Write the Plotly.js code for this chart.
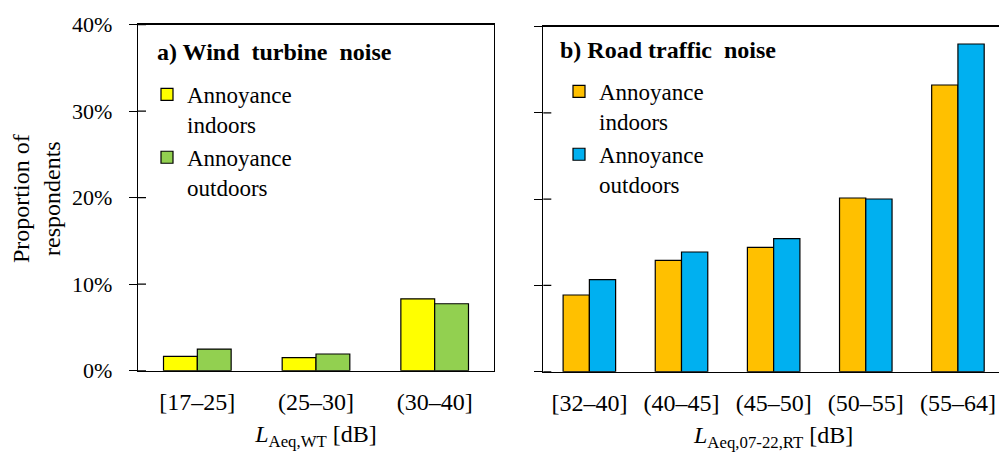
<!DOCTYPE html>
<html>
<head>
<meta charset="utf-8">
<script src="https://cdn.plot.ly/plotly-3.0.1.min.js"></script>
<style>
html, body { margin: 0; padding: 0; overflow: hidden; background: #fff; }
#chart { width: 1004px; height: 453px; }
#chart svg text, #chart svg tspan { font-family: 'Liberation Serif', 'Times New Roman', serif !important; }
</style>
</head>
<body>
<div id="chart"></div>
<script>
// ---- data ----
const catsWT = ['[17–25]', '(25–30]', '(30–40]'];
const wtIndoors = [1.66, 1.5, 8.31];
const wtOutdoors = [2.5, 1.93, 7.74];

const catsRT = ['[32–40]', '(40–45]', '(45–50]', '(50–55]', '(55–64]'];
const rtIndoors = [8.89, 12.9, 14.41, 20.13, 33.22];
const rtOutdoors = [10.66, 13.87, 15.41, 20.01, 37.97];

const yTicks = [0, 10, 20, 30, 40];
const seriesNames = ['Annoyance<br>indoors', 'Annoyance<br>outdoors'];
const yTitle = 'Proportion of<br>respondents';

const FONT = 'Liberation Serif, serif';
const W = 1004, H = 453;
const px = v => v / W;
const py = v => 1 - v / H;

const barLine = { color: '#000', width: 1.2 };

const traces = [
  { type: 'bar', x: catsWT, y: wtIndoors, name: seriesNames[0], xaxis: 'x', yaxis: 'y',
    marker: { color: '#FFFF00', line: barLine }, legend: 'legend' },
  { type: 'bar', x: catsWT, y: wtOutdoors, name: seriesNames[1], xaxis: 'x', yaxis: 'y',
    marker: { color: '#92D050', line: barLine }, legend: 'legend' },
  { type: 'bar', x: catsRT, y: rtIndoors, name: seriesNames[0], xaxis: 'x2', yaxis: 'y2',
    marker: { color: '#FFC000', line: barLine }, legend: 'legend2' },
  { type: 'bar', x: catsRT, y: rtOutdoors, name: seriesNames[1], xaxis: 'x2', yaxis: 'y2',
    marker: { color: '#00B0F0', line: barLine }, legend: 'legend2' }
];

const axisLine = { showline: true, linecolor: '#000', linewidth: 1.3, showgrid: false, zeroline: false };

const yBase = Object.assign({}, axisLine, {
  range: [0, 40], tickvals: yTicks, ticktext: yTicks.map(v => v + '%'),
  ticks: 'outside', ticklen: 8, tickwidth: 1.2, tickcolor: '#000',
  tickfont: { family: FONT, size: 22, color: '#000' }, fixedrange: true
});
const xBase = Object.assign({}, axisLine, {
  ticks: '', mirror: true, tickfont: { family: FONT, size: 24, color: '#000' },
  ticklabelstandoff: 9, fixedrange: true
});

// inward half of the crossing y ticks
const innerTicks = [];
[['x', 'y'], ['x2', 'y2']].forEach(([xa, ya]) => {
  yTicks.forEach(v => {
    innerTicks.push({
      type: 'line', xref: xa + ' domain', yref: ya, xsizemode: 'pixel', xanchor: 0,
      x0: 0, x1: 8, y0: v, y1: v, line: { color: '#000', width: 1.2 }
    });
  });
});

const legendBase = {
  xanchor: 'left', yanchor: 'top', valign: 'top',
  bgcolor: 'rgba(0,0,0,0)', borderwidth: 0, tracegroupgap: 0,
  font: { family: FONT, size: 23, color: '#000' }
};

const layout = {
  width: W, height: H,
  margin: { l: 0, r: 0, t: 0, b: 0 },
  paper_bgcolor: '#fff', plot_bgcolor: 'rgba(0,0,0,0)',
  font: { family: FONT, color: '#000' },
  barmode: 'group', bargap: 0.43, bargroupgap: 0,
  xaxis: Object.assign({}, xBase, {
    domain: [px(138), px(494)], anchor: 'y', range: [-0.5, 2.5],
    title: { text: '<i>L</i><sub>Aeq,WT</sub> [dB]', font: { family: FONT, size: 24 }, standoff: 11 }
  }),
  yaxis: Object.assign({}, yBase, {
    domain: [1 - 370.7 / H, 1 - 24.7 / H], anchor: 'x', mirror: true,
    ticklabelstandoff: 12
  }),
  xaxis2: Object.assign({}, xBase, {
    domain: [px(543.3), 1], anchor: 'y2', range: [-0.5, 4.5],
    title: { text: '<i>L</i><sub>Aeq,07-22,RT</sub> [dB]', font: { family: FONT, size: 24 }, standoff: 11 }
  }),
  yaxis2: Object.assign({}, yBase, {
    domain: [1 - 371.7 / H, 1 - 26.5 / H], anchor: 'x2', showticklabels: false
  }),
  shapes: innerTicks,
  showlegend: true,
  legend: Object.assign({}, legendBase, { x: px(147), y: py(73) }),
  legend2: Object.assign({}, legendBase, { x: px(559), y: py(70) }),
  annotations: [
    { text: yTitle, xref: 'paper', yref: 'paper', x: px(36), y: py(199), textangle: -90,
      xanchor: 'center', yanchor: 'middle', showarrow: false,
      font: { family: FONT, size: 24, color: '#000' } },
    { text: '<b>a) Wind&nbsp; turbine&nbsp; noise</b>', xref: 'paper', yref: 'paper', x: px(155), y: py(52),
      xanchor: 'left', yanchor: 'middle', showarrow: false, font: { family: FONT, size: 24, color: '#000' } },
    { text: '<b>b) Road traffic&nbsp; noise</b>', xref: 'paper', yref: 'paper', x: px(558), y: py(50),
      xanchor: 'left', yanchor: 'middle', showarrow: false, font: { family: FONT, size: 24, color: '#000' } }
  ]
};

Plotly.newPlot('chart', traces, layout, { displayModeBar: false, staticPlot: true });
</script>
</body>
</html>
